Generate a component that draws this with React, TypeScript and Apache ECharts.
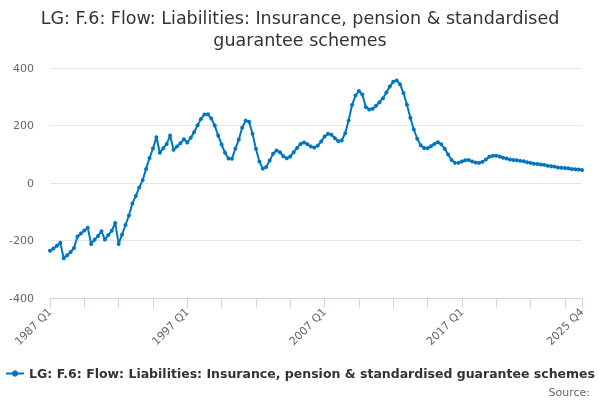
import React, { useEffect, useRef } from "react";
import * as echarts from "echarts";

const startYear = 1987;
const endYear = 2025;
const categories: string[] = [];
for (let y = startYear; y <= endYear; y++) {
  for (let q = 1; q <= 4; q++) categories.push(`${y} Q${q}`);
}

const seriesName =
  "LG: F.6: Flow: Liabilities: Insurance, pension & standardised guarantee schemes";

const values1987to1994 = [
  -236, -228, -218, -208, -262, -251, -240, -226, -186, -176,
  -165, -156, -212, -197, -184, -168, -197, -181, -166, -139,
  -212, -179, -146, -113, -71, -45, -16, 10, 49, 87,
];
const values1994to2001 = [
  120, 159, 105, 121, 136, 165, 116, 127, 138, 152,
  141, 157, 177, 201, 223, 238, 239, 224, 200, 165,
  134, 105, 85, 84, 119, 151, 192, 217, 213, 171,
];
const values2002to2009 = [
  119, 75, 50, 56, 78, 102, 113, 107, 93, 86,
  92, 107, 122, 136, 141, 135, 127, 123, 130, 144,
  162, 171, 168, 156, 145, 148, 173, 217, 271, 304, 320,
];
const values2009to2017 = [
  308, 264, 256, 258, 269, 281, 295, 315, 336, 352,
  357, 343, 313, 272, 227, 186, 154, 131, 122, 121,
  128, 136, 142, 135, 119, 99, 80, 70, 70, 75,
];
const values2017to2025 = [
  79, 80, 75, 71, 70, 74, 82, 91, 95, 95,
  92, 88, 85, 82, 80, 79, 77, 76, 72, 70,
  67, 66, 64, 63, 60, 58, 57, 54, 53, 52,
  51, 49, 48, 47, 45,
];
const values = [
  ...values1987to1994,
  ...values1994to2001,
  ...values2002to2009,
  ...values2009to2017,
  ...values2017to2025,
];

const yTicks = { min: -400, max: 400, interval: 200 };

const FONT = "DejaVu Sans";
const LINE_COLOR = "#0076bf";

export default function App() {
  const ref = useRef<HTMLDivElement>(null);
  useEffect(() => {
    if (!ref.current) return;
    const chart = echarts.init(ref.current, undefined, { renderer: "svg" });
    const last = categories.length - 1;
    chart.setOption({
      animation: false,
      textStyle: { fontFamily: FONT },
      title: {
        text: "LG: F.6: Flow: Liabilities: Insurance, pension & standardised\nguarantee schemes",
        left: "center",
        top: 2,
        textStyle: {
          fontFamily: FONT,
          fontSize: 17.5,
          fontWeight: "normal",
          color: "#333333",
          lineHeight: 22,
        },
      },
      legend: {
        bottom: 15,
        left: "center",
        itemWidth: 18,
        itemHeight: 8,
        textStyle: {
          fontFamily: FONT,
          fontSize: 12.5,
          fontWeight: "bold",
          color: "#333333",
        },
        data: [seriesName],
      },
      graphic: [
        {
          type: "text",
          right: 10,
          top: 387,
          style: {
            text: "Source:",
            fontFamily: FONT,
            fontSize: 11,
            fill: "#666666",
          },
        },
      ],
      grid: { left: 50, right: 18, top: 68, bottom: 102 },
      xAxis: {
        type: "category",
        data: categories,
        boundaryGap: false,
        axisLine: { onZero: false, lineStyle: { color: "#ccd6eb" } },
        axisTick: {
          length: 10,
          lineStyle: { color: "#ccd6eb" },
          interval: (i: number) => i % 10 === 0 || i === last,
        },
        axisLabel: {
          rotate: 45,
          color: "#666666",
          fontSize: 11,
          fontFamily: FONT,
          margin: 12,
          interval: (i: number) => i % 40 === 0 || i === last,
        },
        splitLine: { show: false },
      },
      yAxis: {
        type: "value",
        min: yTicks.min,
        max: yTicks.max,
        interval: yTicks.interval,
        axisLine: { show: false },
        axisTick: { show: false },
        axisLabel: { color: "#666666", fontSize: 11, fontFamily: FONT, margin: 16 },
        splitLine: { lineStyle: { color: "#e6e6e6" } },
      },
      series: [
        {
          name: seriesName,
          type: "line",
          data: values,
          symbol: "circle",
          symbolSize: 4,
          showAllSymbol: true,
          color: LINE_COLOR,
          lineStyle: { width: 2, color: LINE_COLOR },
          itemStyle: { color: LINE_COLOR },
        },
      ],
    });
    return () => chart.dispose();
  }, []);
  return (
    <div
      ref={ref}
      style={{ position: "fixed", left: 0, top: 0, width: 600, height: 400 }}
    />
  );
}
